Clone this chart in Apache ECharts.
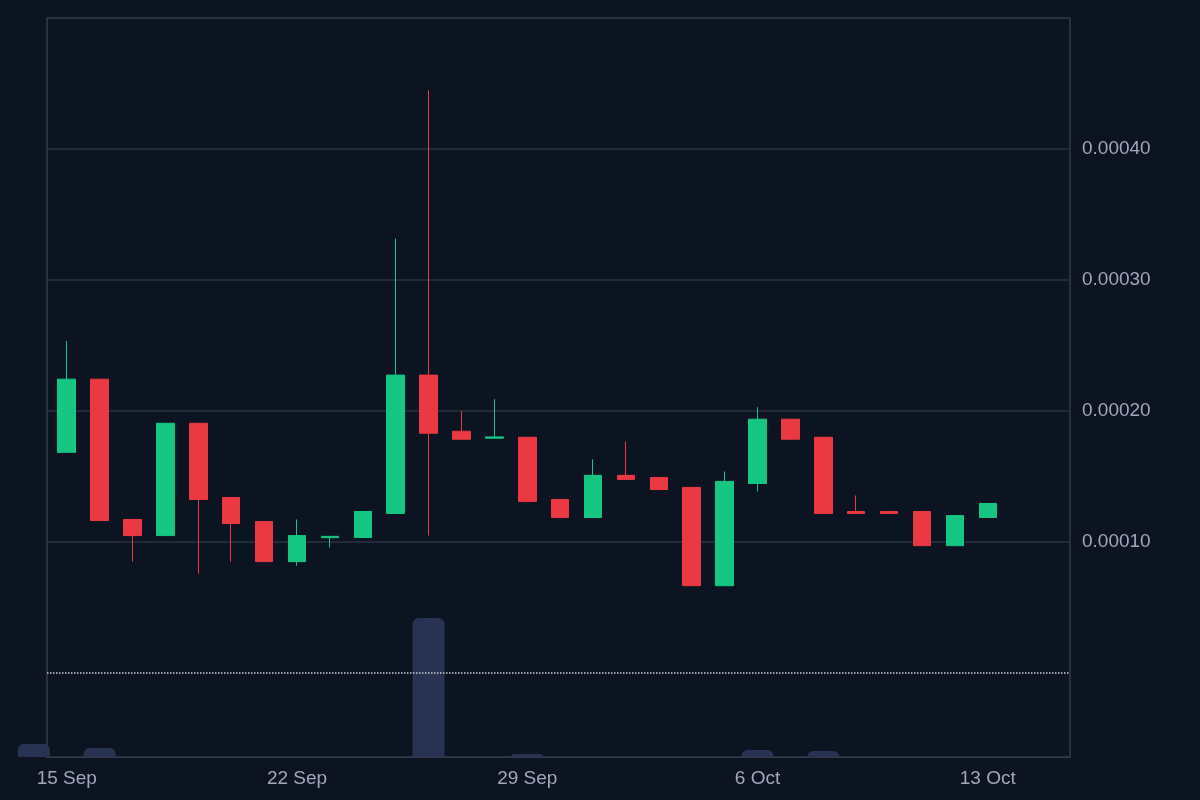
<!DOCTYPE html>
<html>
<head>
<meta charset="utf-8">
<script src="https://cdn.jsdelivr.net/npm/echarts@6/dist/echarts.min.js"></script>
<style>html,body{margin:0;background:#0d1421;}#main{width:1200px;height:800px;}</style>
</head>
<body>
<div id="main"></div>
<script>
// day offsets from 15 Sep
var days = [0,1,2,3,4,5,6,7,8,9,10,11,12,13,14,15,16,17,18,19,20,21,22,23,24,25,26,27,28];
// values in units of 1e-4
var opens  = [1.682,2.241,1.169,1.046,1.904,1.337,1.153,0.847,1.030,1.031,1.215,2.272,1.843,1.790,1.797,1.322,1.184,1.506,1.490,1.414,0.663,1.444,1.935,1.797,1.230,1.230,1.230,0.969,1.184];
var closes = [2.241,1.161,1.046,1.904,1.322,1.138,0.847,1.046,1.040,1.230,2.272,1.828,1.782,1.800,1.307,1.184,1.506,1.475,1.398,0.663,1.460,1.935,1.782,1.215,1.215,1.215,0.969,1.199,1.291];
var lows   = [1.682,1.161,0.847,1.046,0.755,0.847,0.847,0.816,0.954,1.031,1.215,1.046,1.782,1.790,1.307,1.184,1.184,1.475,1.398,0.663,0.663,1.383,1.782,1.215,1.215,1.215,0.969,0.969,1.184];
var highs  = [2.533,2.241,1.169,1.904,1.904,1.337,1.153,1.169,1.040,1.230,3.314,4.448,1.996,2.088,1.797,1.322,1.628,1.766,1.490,1.414,1.536,2.027,1.935,1.797,1.352,1.230,1.230,1.199,1.291];
var lastPrice = 1.284;
var volDays = [-1,1,11,14,21,23];
var volumes = [13,9,139,3,7,6];
var tickDays = [0,7,14,21,28];
var tickLabels = ['15 Sep','22 Sep','29 Sep','6 Oct','13 Oct'];

var ohlc = days.map(function (d, i) {
  return [d, opens[i] / 1e4, closes[i] / 1e4, lows[i] / 1e4, highs[i] / 1e4];
});
var vol = volDays.map(function (d, i) { return [d, volumes[i]]; });

var xBase = {
  type: 'value', min: -0.6, max: 30.5,
  splitLine: { show: false }
};

var chart = echarts.init(document.getElementById('main'));
chart.setOption({
  backgroundColor: '#0d1421',
  animation: false,
  grid: [
    { left: 47, right: 130, top: 18, bottom: 127.5 },
    { left: 47, right: 130, top: 18, bottom: 43, show: true, borderColor: '#323a4a', borderWidth: 1.5, backgroundColor: 'transparent' }
  ],
  xAxis: [
    Object.assign({}, xBase, { gridIndex: 0, show: false }),
    Object.assign({}, xBase, {
      gridIndex: 1,
      axisLine: { show: true, lineStyle: { color: '#323a4a' } },
      axisTick: { show: false },
      axisLabel: {
        customValues: tickDays, color: '#a1a7bb', fontSize: 19, margin: 12,
        fontFamily: 'Liberation Sans, Arial, sans-serif',
        formatter: function (v) { return tickLabels[tickDays.indexOf(v)] || ''; }
      }
    })
  ],
  yAxis: [
    {
      gridIndex: 0, position: 'right', min: 0, max: 0.0005, interval: 0.0001,
      axisLine: { show: false }, axisTick: { show: false },
      axisLabel: {
        color: '#a1a7bb', fontSize: 19, margin: 12,
        fontFamily: 'Liberation Sans, Arial, sans-serif',
        formatter: function (v) { return (v > 0.00005 && v < 0.00045) ? v.toFixed(5) : ''; }
      },
      splitLine: { lineStyle: { color: ['transparent', '#2a3140', '#2a3140', '#2a3140', '#2a3140', 'transparent'], width: 1.5 } }
    },
    { gridIndex: 1, min: 0, max: 739, show: false }
  ],
  series: [
    {
      type: 'bar', xAxisIndex: 1, yAxisIndex: 1, data: vol, barWidth: 32,
      itemStyle: { color: '#283252', borderRadius: [6, 6, 0, 0] }
    },
    {
      type: 'candlestick', xAxisIndex: 0, yAxisIndex: 0, data: ohlc,
      encode: { x: 0, y: [1, 2, 3, 4] }, barWidth: 18, clip: false,
      itemStyle: { color: '#16c784', color0: '#ea3943', borderColor: '#16c784', borderColor0: '#ea3943', borderWidth: 1 },
      markLine: {
        symbol: 'none', silent: true, label: { show: false },
        lineStyle: { color: '#c8ccd6', type: 'dotted', width: 1.5 },
        data: [{ yAxis: lastPrice / 1e4 }]
      }
    }
  ]
});
</script>
</body>
</html>
